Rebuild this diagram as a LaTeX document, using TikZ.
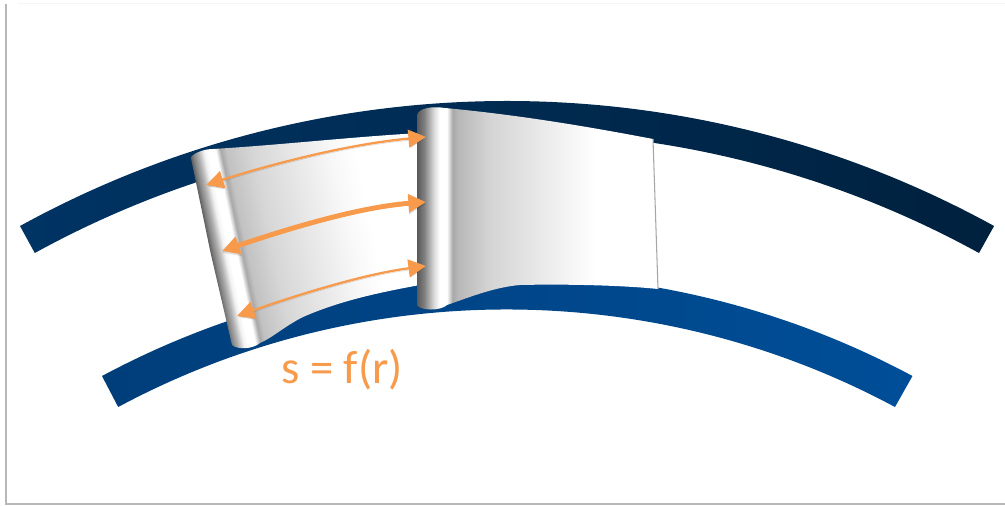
\documentclass[tikz,border=0pt]{standalone}
\usepackage{fontspec}
\setmainfont{Carlito}
\usepackage{xcolor}
\usetikzlibrary{arrows.meta}
\definecolor{arroworange}{HTML}{F79A4B}
\definecolor{hubleft}{RGB}{0,62,122}
\definecolor{hubright}{RGB}{0,78,152}
\definecolor{casingleft}{RGB}{0,52,100}
\definecolor{casingmid}{RGB}{0,34,66}
\definecolor{casingright}{RGB}{0,33,62}
\pgfdeclarehorizontalshading{bladeone}{100bp}{
  color(0bp)=(black!62); color(25bp)=(black!62); color(25.6bp)=(black!48);
  color(26.6bp)=(black!30); color(27.7bp)=(black!5); color(28.5bp)=(white); color(30bp)=(white);
  color(31bp)=(black!34); color(32bp)=(black!24); color(37bp)=(black!16);
  color(45bp)=(black!9); color(52bp)=(black!3); color(57bp)=(white); color(100bp)=(white)}
\pgfdeclarehorizontalshading{bladetwo}{100bp}{
  color(0bp)=(black!65); color(25bp)=(black!65); color(26.5bp)=(black!50);
  color(28.5bp)=(black!15); color(29.7bp)=(white); color(31.2bp)=(white);
  color(32.4bp)=(black!34); color(33.5bp)=(black!28); color(40bp)=(black!17);
  color(50bp)=(black!9); color(62bp)=(white); color(75bp)=(white); color(100bp)=(white)}
\begin{document}
\begin{tikzpicture}[
  x=0.02cm, y=-0.02cm,
  frameline/.style={draw=black!28, line width=0.6pt},
  band/.style={line width=0pt},
  twoway/.style={{Triangle[length=10pt,width=10pt]}-{Triangle[length=10pt,width=10pt]},
                 draw=arroworange, fill=none,
                 preaction={draw=black, opacity=0.12, transform canvas={yshift=-1pt}}},
  thinarrow/.style={twoway, line width=1.3pt},
  thickarrow/.style={twoway, line width=2.8pt},
  formula/.style={text=arroworange, font=\fontsize{26.6}{30}\selectfont, inner sep=0pt}
]
  \useasboundingbox (0,0) rectangle (1005,505);
  \fill[white] (0,0) rectangle (1005,505);

  \draw[frameline] (6,4) -- (6,504) -- (1005,504);
  \draw[black!4, line width=0.5pt] (18,3) -- (1005,3);

  % hub and casing
  \shade[band, left color=hubleft, right color=hubright]
    (102,376) arc[start angle=-118.2, end angle=-61.8, radius=857.6]
    -- (895,407) arc[start angle=-61.8, end angle=-118.2, radius=822] -- cycle;
  \shade[band, left color=casingleft, middle color=casingmid, right color=casingright]
    (20,226) arc[start angle=-118.8, end angle=-61.2, radius=1011]
    -- (979,253) arc[start angle=-61.2, end angle=-118.8, radius=980] -- cycle;

  % first blade
  \begin{scope}
    \clip (189,160) .. controls (192,153) and (204,149) .. (213,149)
      .. controls (280,145) and (350,137) .. (420,133)
      -- (420,285) .. controls (370,294) and (335,303) .. (303,317)
      .. controls (285,326) and (272,338) .. (260,343)
      .. controls (253,349) and (238,350) .. (232,345) -- cycle;
    \shade[shading=bladeone, transform canvas={rotate around={11.7:(210,250)}}]
      (210,60) rectangle (465,440);
  \end{scope}

  % second blade
  \shade[shading=bladetwo]
    (417,115) .. controls (419,108) and (432,106) .. (445,108)
    .. controls (520,115) and (590,127) .. (653,139)
    -- (658,289) .. controls (620,285) and (560,284) .. (520,285)
    .. controls (495,287) and (470,297) .. (447,305)
    .. controls (441,311) and (420,311) .. (417,305) -- cycle;
  \draw[black!35, line width=0.6pt] (653,139) -- (658,289);

  \coordinate (topleft) at (206,185);
  \coordinate (topright) at (426,137);
  \coordinate (midleft) at (222,251);
  \coordinate (midright) at (426,202);
  \coordinate (lowleft) at (237,316);
  \coordinate (lowright) at (426,266);

  \draw[thinarrow] (topleft) .. controls (275,163) and (350,144) .. (topright);
  \draw[thickarrow] (midleft) .. controls (290,228) and (360,207) .. (midright);
  \draw[thinarrow] (lowleft) .. controls (300,294) and (365,274) .. (lowright);

  \node[formula] (spacing) at (342,370) {s = f(r)};
\end{tikzpicture}
\end{document}
